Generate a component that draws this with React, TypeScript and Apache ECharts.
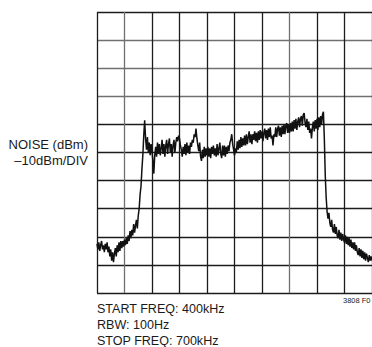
import React, { useEffect, useRef } from "react";
import * as echarts from "echarts";

// Sweep: 400kHz .. 700kHz, 30kHz/div; offsets in kHz from START
const START_FREQ_KHZ = 400;
const SPAN_KHZ = 300;
const STEP_KHZ = 1;
const DIV_KHZ = 30;
// Amplitude: -10dBm/DIV, 10 divisions
const TOP_DBM = 0;
const BOTTOM_DBM = -100;
const DBM_PER_DIV = 10;

// Measured noise trace (dBm), one reading every 1kHz from 400kHz
const noiseDbm: number[] = [
  // 400-429
  -82.5, -84.5, -82.0, -85.0, -83.0, -81.5, -84.5, -83.0, -85.5, -82.5,
  -84.5, -82.0, -85.5, -83.5, -87.0, -84.5, -88.5, -85.5, -89.0, -86.0,
  -84.0, -87.0, -83.0, -85.5, -82.0, -85.0, -81.5, -84.0, -81.5, -83.5,
  // 430-459
  -81.0, -83.0, -80.5, -82.5, -79.5, -81.5, -78.0, -80.5, -77.5, -79.5,
  -75.5, -78.5, -76.0, -74.0, -77.0, -72.5, -70.0, -65.0, -62.0, -56.0,
  -51.0, -44.0, -38.5, -45.0, -49.0, -44.5, -50.0, -46.5, -51.0, -47.0,
  // 460-489
  -49.5, -53.0, -57.5, -51.0, -48.0, -51.5, -46.5, -50.5, -47.0, -51.0,
  -48.5, -45.5, -50.5, -47.0, -51.5, -47.5, -45.5, -50.5, -47.0, -45.0,
  -50.0, -47.0, -51.5, -47.5, -45.5, -50.0, -46.5, -44.5, -46.0, -44.0,
  // 490-519
  -45.0, -47.5, -49.0, -51.5, -48.0, -50.5, -47.0, -51.0, -46.5, -50.0,
  -47.5, -50.5, -46.5, -48.0, -45.5, -46.5, -43.5, -44.5, -41.5, -45.0,
  -47.5, -49.5, -46.5, -51.5, -53.0, -49.0, -52.0, -48.0, -51.5, -48.5,
  // 520-549
  -51.0, -48.0, -51.5, -48.5, -52.0, -48.0, -50.5, -47.5, -51.0, -48.5,
  -51.5, -47.0, -51.0, -48.5, -46.5, -50.5, -52.0, -47.5, -51.0, -47.5,
  -51.5, -48.0, -50.5, -47.5, -49.5, -46.5, -45.5, -43.5, -47.0, -49.0,
  // 550-579
  -51.0, -48.5, -50.0, -46.0, -49.0, -45.5, -48.5, -44.5, -48.0, -45.0,
  -47.5, -44.0, -47.5, -43.5, -47.0, -44.5, -42.5, -46.5, -43.5, -47.0,
  -43.5, -45.5, -42.5, -46.0, -43.0, -46.5, -42.5, -45.5, -42.0, -45.0,
  // 580-609
  -42.5, -46.0, -43.0, -41.5, -45.0, -42.0, -45.5, -41.5, -44.5, -41.0,
  -45.0, -44.0, -47.5, -43.5, -44.5, -41.0, -44.5, -41.5, -40.5, -44.0,
  -41.0, -44.5, -40.5, -43.5, -40.0, -43.5, -40.5, -39.5, -43.0, -40.0,
  // 610-639
  -43.0, -39.5, -42.5, -39.0, -42.5, -38.5, -41.5, -38.0, -42.0, -39.0,
  -37.5, -41.0, -38.0, -37.0, -40.5, -36.5, -36.0, -39.5, -41.0, -38.0,
  -42.0, -39.0, -43.0, -41.5, -45.0, -41.0, -39.0, -42.5, -38.5, -41.5,
  // 640-669
  -38.0, -42.0, -37.5, -41.0, -37.0, -40.0, -36.5, -35.5, -45.0, -58.0,
  -66.0, -71.0, -73.5, -71.5, -75.0, -76.5, -74.0, -77.5, -78.5, -75.5,
  -79.0, -76.5, -79.5, -80.5, -77.5, -81.0, -78.5, -81.5, -79.0, -81.0,
  // 670-700
  -82.0, -79.5, -82.5, -80.0, -83.0, -80.5, -83.5, -81.0, -84.0, -82.0,
  -84.5, -82.0, -85.0, -83.0, -85.5, -86.5, -84.0, -87.0, -84.5, -87.5,
  -85.0, -88.0, -85.5, -88.5, -86.0, -87.5, -89.0, -86.5, -88.5, -87.0, -88.5,
];

const yLabelLines = ["NOISE (dBm)", "\u201310dBm/DIV"];
const footerLines = ["START FREQ: 400kHz", "RBW: 100Hz", "STOP FREQ: 700kHz"];
const figureId = "3808 F0";

const DARK = "#1c1c1c";
const GRAY = "#707070";
const xLineColors = [DARK, GRAY, DARK, DARK, DARK, DARK, DARK, GRAY, DARK, DARK, DARK];
const yLineColors = [DARK, DARK, DARK, DARK, DARK, DARK, DARK, GRAY, GRAY, GRAY, DARK];

const FONT = "'Liberation Sans', Arial, sans-serif";

export default function App() {
  const ref = useRef<HTMLDivElement>(null);
  useEffect(() => {
    if (!ref.current) return;
    const chart = echarts.init(ref.current, null, { renderer: "svg" });
    const data = noiseDbm.map((v, i) => [i * STEP_KHZ, v]);
    const txt = (t: string, x: number, y: number, align: string, size: number, sx: number) => ({
      type: "text",
      x,
      y,
      scaleX: sx,
      silent: true,
      style: {
        text: t,
        fill: "#1a1a1a",
        fontFamily: FONT,
        fontSize: size,
        textAlign: align,
        textVerticalAlign: "middle",
      },
    });
    chart.setOption({
      animation: false,
      backgroundColor: "#ffffff",
      grid: { left: 97, top: 12, width: 286, height: 281, containLabel: false },
      xAxis: {
        type: "value",
        min: 0,
        max: SPAN_KHZ,
        interval: DIV_KHZ,
        axisLine: { show: false },
        axisTick: { show: false },
        axisLabel: { show: false },
        splitLine: { show: true, showMinLine: true, showMaxLine: true, lineStyle: { color: xLineColors, width: 1.3 } },
      },
      yAxis: {
        type: "value",
        min: BOTTOM_DBM,
        max: TOP_DBM,
        interval: DBM_PER_DIV,
        axisLine: { show: false },
        axisTick: { show: false },
        axisLabel: { show: false },
        splitLine: { show: true, showMinLine: true, showMaxLine: true, lineStyle: { color: yLineColors, width: 1.3 } },
      },
      series: [
        {
          type: "line",
          name: `Noise from ${START_FREQ_KHZ}kHz`,
          data,
          showSymbol: false,
          symbol: "none",
          lineStyle: { color: "#111111", width: 1.5 },
          clip: true,
          z: 5,
        },
      ],
      graphic: [
        txt(yLabelLines[0], 88, 144.5, "right", 13, 1),
        txt(yLabelLines[1], 88, 160.5, "right", 13, 1),
        txt(footerLines[0], 97, 308, "left", 13.5, 0.93),
        txt(footerLines[1], 97, 324.5, "left", 13.5, 0.93),
        txt(footerLines[2], 97, 340.5, "left", 13.5, 0.93),
        txt(figureId, 343, 300, "left", 7.5, 1),
      ],
    });
    return () => chart.dispose();
  }, []);
  return (
    <div
      ref={ref}
      style={{ position: "fixed", left: 0, top: 0, width: 372, height: 347, background: "#fff" }}
    />
  );
}
